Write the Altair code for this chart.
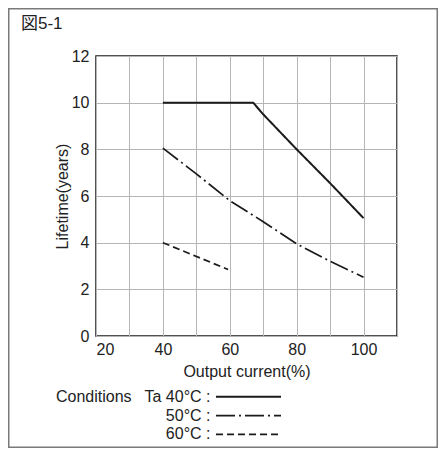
import altair as alt
import pandas as pd

FONT = "Liberation Sans, Arial, Noto Sans CJK JP"

# data (output current %, lifetime years)
x40 = [40, 67, 70, 80, 90, 100]
y40 = [10.0, 10.0, 9.5, 8.0, 6.55, 5.05]
x50 = [40, 50, 60, 70, 80, 90, 100]
y50 = [8.05, 6.95, 5.8, 4.9, 3.95, 3.2, 2.52]
x60 = [40, 59.5]
y60 = [4.0, 2.85]

series_names = ["40°C", "50°C", "60°C"]
legend_labels = ["Ta 40°C :", "50°C :", "60°C :"]
dashes = [[1, 0], [19, 4, 2, 4], [7, 4]]
widths = [2.0, 1.7, 1.7]

x_ticks = [20, 30, 40, 50, 60, 70, 80, 90, 100, 110]
y_ticks = [0, 2, 4, 6, 8, 10, 12]

W, H = 301, 280
PAD_L, PAD_T = 88, 48
TOTAL_W, TOTAL_H = 430, 440

frames = []
for name, xs, ys in zip(series_names, [x40, x50, x60], [y40, y50, y60]):
    frames.append(pd.DataFrame({"x": xs, "y": ys, "s": name}))
df = pd.concat(frames, ignore_index=True)

xscale = alt.Scale(domain=[20, 110], nice=False, zero=False)
yscale = alt.Scale(domain=[0, 12], nice=False)

xaxis = alt.Axis(values=x_ticks, grid=True, gridColor="#b5b5b5", gridWidth=1,
                 ticks=False, domain=False, labelFontSize=16, labelFont=FONT,
                 labelColor="#222", labelPadding=5, title="Output current(%)",
                 titleFontSize=16, titleFont=FONT, titleFontWeight="normal",
                 titleColor="#222", titlePadding=6,
                 labelExpr="(datum.value % 20 == 0 && datum.value <= 100) ? datum.label : ''")
yaxis = alt.Axis(values=y_ticks, grid=True, gridColor="#b5b5b5", gridWidth=1,
                 ticks=False, domain=False, labelFontSize=16, labelFont=FONT,
                 labelColor="#222", labelPadding=7, title="Lifetime(years)",
                 titleFontSize=16, titleFont=FONT, titleFontWeight="normal",
                 titleColor="#222", titlePadding=1)

layers = []
for name, d, w in zip(series_names, dashes, widths):
    sub = df[df["s"] == name]
    layers.append(
        alt.Chart(sub).mark_line(color="#1a1a1a", strokeWidth=w, strokeDash=d,
                                 strokeCap="butt")
        .encode(x=alt.X("x:Q", scale=xscale, axis=xaxis),
                y=alt.Y("y:Q", scale=yscale, axis=yaxis))
    )

# outer frame
frame = alt.Chart(pd.DataFrame({"a": [0]})).mark_rect(
    fill=None, stroke="#7a7a7a", strokeWidth=1.5
).encode(x=alt.value(-PAD_L + 0.75), x2=alt.value(TOTAL_W - PAD_L - 0.75),
         y=alt.value(-PAD_T + 0.75), y2=alt.value(TOTAL_H - PAD_T - 0.75))

title = alt.Chart(pd.DataFrame({"t": ["図5-1"]})).mark_text(
    align="left", baseline="middle", fontSize=17, font=FONT, color="#222"
).encode(text="t:N", x=alt.value(21 - 96), y=alt.value(24 - 56))

# legend
leg_y = [340.7, 359.7, 378.3]
cond = alt.Chart(pd.DataFrame({"t": ["Conditions"]})).mark_text(
    align="left", baseline="middle", fontSize=16, font=FONT, color="#222"
).encode(text="t:N", x=alt.value(56 - 96), y=alt.value(leg_y[0]))

leg_layers = []
for lab, yy, d, w in zip(legend_labels, leg_y, dashes, widths):
    one = pd.DataFrame({"lab": [lab]})
    leg_layers.append(
        alt.Chart(one).mark_text(align="right", baseline="middle", fontSize=16,
                                 font=FONT, color="#222")
        .encode(text="lab:N", x=alt.value(210.5 - 96), y=alt.value(yy))
    )
    leg_layers.append(
        alt.Chart(one).mark_rule(color="#1a1a1a", strokeWidth=w, strokeDash=d,
                                 strokeCap="butt")
        .encode(x=alt.value(216 - 96), x2=alt.value(281 - 96), y=alt.value(yy))
    )

chart = alt.layer(frame, *layers, title, cond, *leg_layers).properties(
    width=W, height=H,
    autosize=alt.AutoSizeParams(type="none"),
    padding={"left": PAD_L, "top": PAD_T,
             "right": TOTAL_W - PAD_L - W, "bottom": TOTAL_H - PAD_T - H},
).configure_view(stroke="#1a1a1a", strokeWidth=1.5)

chart.save("out.html", embed_options={"renderer": "svg", "actions": False})
